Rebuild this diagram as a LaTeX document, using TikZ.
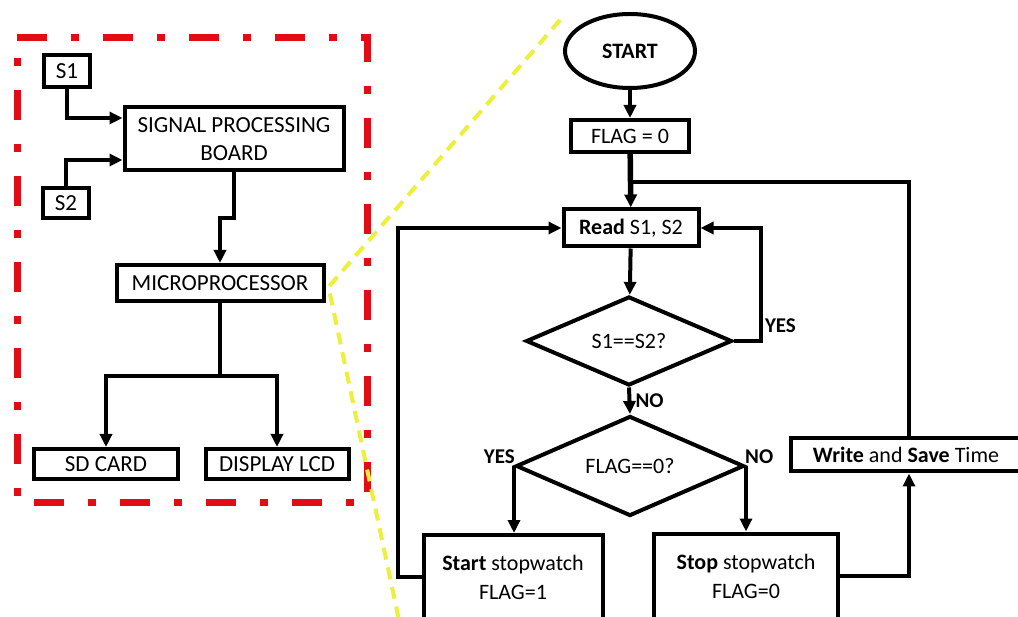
\documentclass[tikz,border=0pt]{standalone}
\usepackage{fontspec}
\setmainfont{Carlito}
\usetikzlibrary{shapes,arrows.meta}
\definecolor{framered}{RGB}{226,12,20}
\definecolor{zoomyellow}{RGB}{236,240,60}
\tikzstyle{block} = [rectangle, draw, line width=4pt, inner sep=0pt, align=center, font=\fontsize{23}{28}\selectfont]
\tikzstyle{decision} = [diamond, draw, line width=4pt, inner sep=0pt, aspect=2.2, font=\fontsize{22}{26}\selectfont]
\tikzstyle{startstop} = [ellipse, draw, line width=4pt, inner sep=0pt, font=\bfseries\fontsize{22}{26}\selectfont]
\tikzstyle{answer} = [inner sep=2pt, font=\bfseries\fontsize{21}{24}\selectfont]
\tikzstyle{line} = [line width=4pt]
\tikzstyle{arrow} = [line width=4pt, -{Triangle[length=13pt,width=12pt]}]

\begin{document}
\begin{tikzpicture}[x=1pt, y=-1pt]
    \useasboundingbox[fill=white] (0,0) rectangle (1018,617);
    % hardware side
    \draw[framered, line width=7pt, dash pattern=on 30pt off 24pt on 8pt off 24pt] (17,38) -- (367,38) -- (367,503) -- (17,503) -- cycle;
    \node[block, minimum width=46pt, minimum height=32pt] (s1) at (67,71) {S1};
    \node[block, minimum width=46pt, minimum height=30pt] (s2) at (66,203) {S2};
    \node[block, minimum width=219pt, minimum height=63pt] (board) at (234,139) {SIGNAL PROCESSING\\BOARD};
    \node[block, minimum width=207pt, minimum height=36pt] (micro) at (220,283) {MICROPROCESSOR};
    \node[block, minimum width=144pt, minimum height=30pt] (sdcard) at (106,464) {SD CARD};
    \node[block, minimum width=143pt, minimum height=30pt] (lcd) at (277,464) {DISPLAY LCD};

    \draw[arrow] (s1.south) |- ([yshift=21pt]board.west);
    \draw[arrow] (s2.north) |- ([yshift=-21pt]board.west);
    \draw[arrow] (board.south) -- (board.south |- 0,218) -| (micro.north);
    \draw[line] (micro.south) -- (micro.south |- 0,376) coordinate (split);
    \draw[arrow] (split) -| (sdcard.north);
    \draw[arrow] (split) -| (lcd.north);

    % zoom lines
    \coordinate (ytip) at ([xshift=3pt, yshift=-4pt]micro.east);
    \coordinate (ytop) at (560,20);
    \coordinate (ybot) at (399,620);
    \draw[zoomyellow, line width=4pt, dash pattern=on 12pt off 8pt] (ytop) -- (ytip) -- (ybot);

    % flowchart
    \node[startstop, minimum width=130pt, minimum height=74pt] (start) at (630,51) {START};
    \node[block, minimum width=118pt, minimum height=32pt, font=\fontsize{22}{26}\selectfont] (flag) at (630,136) {FLAG = 0};
    \node[block, minimum width=135pt, minimum height=37pt, font=\fontsize{22}{26}\selectfont] (read) at (631,228) {\textbf{Read} S1, S2};
    \node[decision, minimum width=206pt, minimum height=89pt] (same) at (629,341) {S1==S2?};
    \node[decision, minimum width=228pt, minimum height=100pt] (check) at (630,466) {FLAG==0?};
    \node[block, minimum width=179pt, minimum height=84pt, font=\fontsize{22}{29}\selectfont] (go) at (513,577) {\textbf{Start} stopwatch\\FLAG=1};
    \node[block, minimum width=184pt, minimum height=85pt, font=\fontsize{22}{29}\selectfont] (halt) at (746,576) {\textbf{Stop} stopwatch\\FLAG=0};
    \node[block, minimum width=230pt, minimum height=33pt, font=\fontsize{22}{26}\selectfont] (save) at (906,455) {\textbf{Write} and \textbf{Save} Time};

    \draw[arrow] (start) -- (flag);
    \draw[arrow, line width=5.5pt] (flag) -- (read);
    \draw[arrow] (read) -- (same);
    \draw[arrow] (same.east) -- ++(27,0) node[answer, above right, pos=1, yshift=4pt] {YES} |- (read.east);
    \draw[arrow] (same.south) -- node[answer, right, xshift=2pt] {NO} (check.north);
    \draw[arrow] (check.west) -- (check.west |- go.north);
    \draw[arrow] (check.east) -- (check.east |- halt.north);
    \node[answer, above left] (yeslbl) at ([xshift=3pt]check.west) {YES};
    \node[answer, above right] (nolbl) at ([xshift=-3pt]check.east) {NO};
    \draw[arrow] (go.west) -- (go.west -| 398,0) |- (read.west);
    \draw[arrow] (halt.east) -| ([xshift=3pt]save.south);
    \draw[line] ([xshift=3pt]save.north) |- (flag.south |- 0,182);
\end{tikzpicture}
\end{document}
